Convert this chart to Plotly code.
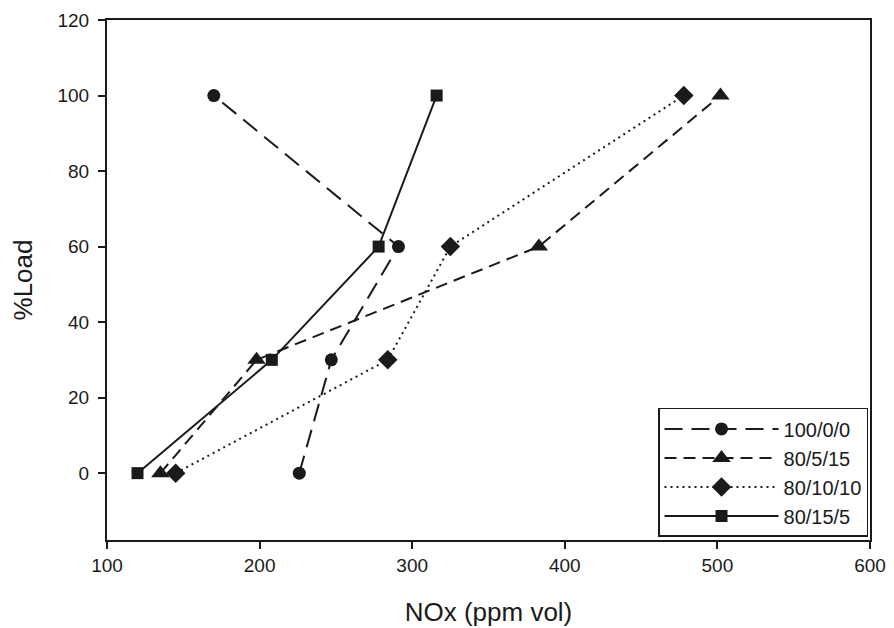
import plotly.graph_objects as go

series_names = ["100/0/0", "80/5/15", "80/10/10", "80/15/5"]
load = [0, 30, 60, 100]
nox_100_0_0 = [226, 247, 291, 170]
nox_80_5_15 = [135, 198, 383, 502]
nox_80_10_10 = [145, 284, 325, 478]
nox_80_15_5 = [120, 208, 278, 316]

x_ticks = [100, 200, 300, 400, 500, 600]
y_ticks = [0, 20, 40, 60, 80, 100, 120]

series_x = [nox_100_0_0, nox_80_5_15, nox_80_10_10, nox_80_15_5]
symbols = ["circle", "triangle-up", "diamond", "square"]
msizes = [13, 16, 15, 12]
dashes = ["18px,9px", "12px,7px", "2px,4px", "solid"]

ink = "#1a1a1a"
fig = go.Figure()
for name, xs, sym, ms, dash in zip(series_names, series_x, symbols, msizes, dashes):
    fig.add_trace(go.Scatter(
        x=xs, y=load, name=name, mode="lines+markers",
        line=dict(color=ink, width=2, dash=dash),
        marker=dict(symbol=sym, size=ms, color=ink, line=dict(width=0)),
    ))

font = "Liberation Sans, Arial, sans-serif"
fig.update_layout(
    width=886, height=620,
    margin=dict(l=99, r=24, t=12, b=88),
    paper_bgcolor="white", plot_bgcolor="white",
    font=dict(family=font, size=19, color=ink),
    showlegend=True,
    legend=dict(
        x=0.9974, y=0.006, xanchor="right", yanchor="bottom",
        bgcolor="white", bordercolor=ink, borderwidth=1.5,
        font=dict(family=font, size=20, color=ink),
        itemwidth=114, tracegroupgap=0,
    ),
    xaxis=dict(
        range=[100, 600], tickvals=x_ticks, ticks="outside", ticklen=7,
        tickwidth=1.5, tickcolor=ink, showline=True, linecolor=ink, linewidth=2,
        mirror=True, showgrid=False, zeroline=False, automargin=False,
        title=dict(text="NOx (ppm vol)", standoff=28,
                   font=dict(family=font, size=26, color=ink)),
        tickfont=dict(family=font, size=19, color=ink),
    ),
    yaxis=dict(
        range=[-17.7, 120], tickvals=y_ticks, ticks="outside", ticklen=7,
        tickwidth=1.5, tickcolor=ink, showline=True, linecolor=ink, linewidth=2,
        mirror=True, showgrid=False, zeroline=False, automargin=False,
        ticklabelstandoff=5,
        title=dict(text="%Load", standoff=24,
                   font=dict(family=font, size=26, color=ink)),
        tickfont=dict(family=font, size=19, color=ink),
    ),
)

fig.write_html("out.html")
